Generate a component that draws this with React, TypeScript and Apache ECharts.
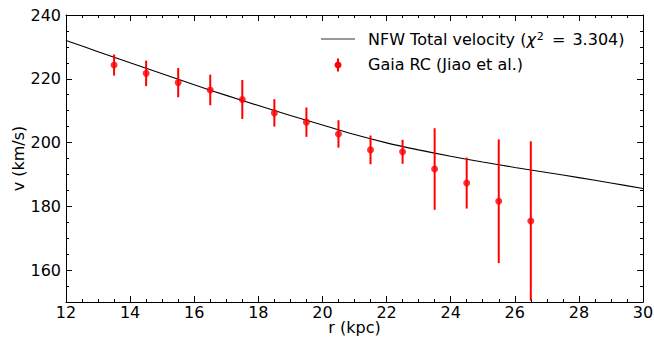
import React, { useEffect, useRef } from "react";
import * as echarts from "echarts";

// NFW model curve
const rModel = [12, 13, 14, 15, 16, 17, 18, 19, 20, 21, 22, 23, 24, 25, 26, 27, 28, 29, 30];
const vModel = [232.0, 228.5, 225.0, 221.6, 218.1, 214.8, 211.6, 208.5, 205.5, 202.5, 199.9, 197.7, 195.7, 193.9, 192.2, 190.6, 189.0, 187.3, 185.6];

// Gaia rotation curve (Jiao et al.)
const rObs = [13.5, 14.5, 15.5, 16.5, 17.5, 18.5, 19.5, 20.5, 21.5, 22.5, 23.5, 24.5, 25.5, 26.5];
const vObs = [224.3, 221.7, 218.8, 216.5, 213.5, 209.3, 206.4, 202.7, 197.7, 197.1, 191.7, 187.3, 181.6, 175.4];
const vErr = [3.3, 4.0, 4.6, 4.8, 6.1, 4.3, 4.6, 4.3, 4.5, 3.75, 12.8, 8.0, 19.4, 25.0];

const yMajorTicks = [160, 180, 200, 220, 240];

const modelName = "NFW Total velocity";
const chiValue = "3.304";
const obsName = "Gaia RC (Jiao et al.)";

export default function App() {
  const ref = useRef<HTMLDivElement>(null);
  useEffect(() => {
    const chart = echarts.init(ref.current!, null, { renderer: "svg" });
    const font = "DejaVu Sans";
    const fs = 16;
    const black = "#000";
    const red = "#ff0000";
    const baseX = {
      type: "value",
      min: 12,
      max: 30,
      interval: 2,
      gridIndex: 0,
      splitLine: { show: false },
      axisLine: { show: true, onZero: false, lineStyle: { color: black, width: 1 } },
      axisTick: { show: true, inside: true, length: 6, lineStyle: { color: black, width: 1 } },
      minorTick: { show: true, splitNumber: 4, length: 3, lineStyle: { color: black, width: 1 } },
    };
    const baseYMajor = {
      type: "value",
      min: 150,
      max: 240,
      interval: 10,
      gridIndex: 0,
      splitLine: { show: false },
      axisLine: { show: true, onZero: false, lineStyle: { color: black, width: 1 } },
      axisTick: { show: true, inside: true, length: 6, customValues: yMajorTicks, lineStyle: { color: black, width: 1 } },
    };
    const baseYMinor = {
      type: "value",
      min: 150,
      max: 240,
      interval: 5,
      gridIndex: 0,
      splitLine: { show: false },
      axisLine: { show: false },
      axisLabel: { show: false },
      axisTick: { show: true, inside: true, length: 3, lineStyle: { color: black, width: 1 } },
    };
    chart.setOption({
      animation: false,
      backgroundColor: "#fff",
      textStyle: { fontFamily: font },
      grid: { left: 66, right: 11, top: 15, bottom: 39, containLabel: false, outerBoundsMode: "none" },
      xAxis: [
        {
          ...baseX,
          position: "bottom",
          axisLabel: { show: true, fontSize: fs, color: black, fontFamily: font, margin: 2 },
          name: "r (kpc)",
          nameLocation: "middle",
          nameGap: 17,
          nameMoveOverlap: false,
          nameTextStyle: { fontSize: fs, color: black, fontFamily: font },
        },
        { ...baseX, position: "top", axisLabel: { show: false } },
      ],
      yAxis: [
        {
          ...baseYMajor,
          position: "left",
          axisLabel: { show: true, customValues: yMajorTicks, fontSize: fs, color: black, fontFamily: font, margin: 5 },
          name: "v (km/s)",
          nameLocation: "middle",
          nameGap: 40,
          nameMoveOverlap: false,
          nameTextStyle: { fontSize: fs, color: black, fontFamily: font },
        },
        { ...baseYMinor, position: "left" },
        { ...baseYMajor, position: "right", axisLabel: { show: false } },
        { ...baseYMinor, position: "right" },
      ],
      series: [
        {
          type: "line",
          xAxisIndex: 0,
          yAxisIndex: 0,
          data: rModel.map((r, i) => [r, vModel[i]]),
          smooth: 0.3,
          showSymbol: false,
          lineStyle: { color: black, width: 1.1 },
          z: 2,
        },
        {
          type: "custom",
          xAxisIndex: 0,
          yAxisIndex: 0,
          clip: true,
          data: rObs.map((r, i) => [r, vObs[i] - vErr[i], vObs[i] + vErr[i]]),
          encode: { x: 0, y: [1, 2] },
          renderItem: (params: any, api: any) => {
            const x = api.value(0);
            const p1 = api.coord([x, api.value(1)]);
            const p2 = api.coord([x, api.value(2)]);
            return {
              type: "line",
              shape: { x1: p1[0], y1: p1[1], x2: p2[0], y2: p2[1] },
              style: { stroke: red, lineWidth: 2 },
            };
          },
          z: 3,
        },
        {
          type: "scatter",
          xAxisIndex: 0,
          yAxisIndex: 0,
          data: rObs.map((r, i) => [r, vObs[i]]),
          symbol: "circle",
          symbolSize: 7,
          itemStyle: { color: red },
          z: 4,
        },
      ],
      graphic: [
        {
          type: "line",
          shape: { x1: 321, y1: 39, x2: 355, y2: 39 },
          style: { stroke: "#333", lineWidth: 1.1 },
        },
        {
          type: "text",
          x: 368,
          y: 39,
          style: {
            text: `${modelName} ({it|χ}{sup|2} {eq|=} ${chiValue})`,
            font: `${fs}px "${font}"`,
            fill: black,
            verticalAlign: "middle",
            rich: {
              it: { fontStyle: "italic", fontSize: fs, fontFamily: font, fill: black },
              sup: { fontSize: 11, fontFamily: font, fill: black, verticalAlign: "top", padding: [0, 1, 6, 1] },
              eq: { fontSize: fs, fontFamily: font, fill: black, padding: [0, 2, 0, 2] },
            },
          },
        },
        {
          type: "line",
          shape: { x1: 338, y1: 58.5, x2: 338, y2: 71.5 },
          style: { stroke: red, lineWidth: 2 },
        },
        {
          type: "circle",
          shape: { cx: 338, cy: 65, r: 3.5 },
          style: { fill: red },
        },
        {
          type: "text",
          x: 368,
          y: 64,
          style: {
            text: obsName,
            font: `${fs}px "${font}"`,
            fill: black,
            verticalAlign: "middle",
          },
        },
      ],
    });
    return () => chart.dispose();
  }, []);
  return (
    <div
      ref={ref}
      style={{ position: "fixed", left: 0, top: 0, width: 654, height: 341, background: "#fff" }}
    />
  );
}
